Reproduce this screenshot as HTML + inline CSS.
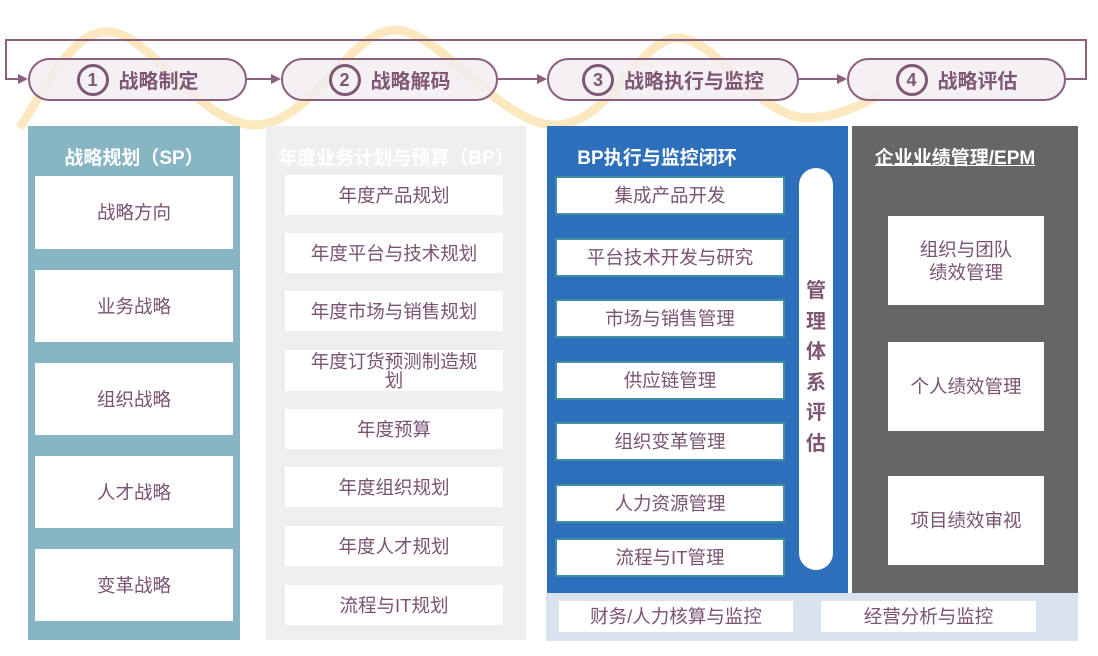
<!DOCTYPE html>
<html><head><meta charset="utf-8"><style>
body{margin:0;width:1098px;height:656px;background:#fff;position:relative;overflow:hidden;font-family:"Liberation Sans","Noto Sans CJK SC",sans-serif}
.a{position:absolute;box-sizing:border-box}
.b{position:absolute;box-sizing:border-box;background:#fff;color:#7a5373;font-size:18.5px;display:flex;align-items:center;justify-content:center;text-align:center;line-height:21px}
.t{border:2.5px solid #3f8fa0}
.h{position:absolute;color:#fff;font-weight:bold;font-size:19px;text-align:center}
.p{position:absolute;box-sizing:border-box;top:58px;height:43px;border:2px solid #8a5f80;border-radius:22px;background:rgba(241,236,241,0.8);color:#7f5775;font-weight:bold;font-size:20px;display:flex;align-items:center;justify-content:center}
.p span{display:inline-block;width:26px;height:26px;border:3px solid #7f5775;border-radius:50%;font-size:18px;line-height:26px;text-align:center;margin-right:10px}
</style></head><body>
<svg class="a" style="left:0;top:0" width="1098" height="140">
<path d="M20,128 C60,60 80,30 110,32 C150,34 200,125 255,125 C310,125 350,30 395,30 C440,30 500,125 555,125 C610,125 640,35 680,38 C720,42 760,120 810,118 C840,116 860,105 880,95" fill="none" stroke="#fbe6b8" stroke-width="9" opacity="0.9"/>
<polyline points="1066,79 1086,79 1086,40 6,40 6,79 22,79" fill="none" stroke="#8a5f80" stroke-width="2"/>
<polygon points="28,79 18,74 18,84" fill="#8a5f80"/>
<line x1="247" y1="79" x2="273" y2="79" stroke="#8a5f80" stroke-width="2"/><polygon points="281,79 271,74 271,84" fill="#8a5f80"/>
<line x1="498" y1="79" x2="539" y2="79" stroke="#8a5f80" stroke-width="2"/><polygon points="547,79 537,74 537,84" fill="#8a5f80"/>
<line x1="799" y1="79" x2="839" y2="79" stroke="#8a5f80" stroke-width="2"/><polygon points="847,79 837,74 837,84" fill="#8a5f80"/>
</svg>
<div class="p" style="left:28px;width:219px"><span>1</span>战略制定</div>
<div class="p" style="left:281px;width:217px"><span>2</span>战略解码</div>
<div class="p" style="left:547px;width:252px"><span>3</span>战略执行与监控</div>
<div class="p" style="left:847px;width:219px"><span>4</span>战略评估</div>

<div class="a" style="left:28px;top:126px;width:212px;height:514px;background:#88b5c4"></div>
<div class="h" style="left:28px;top:143px;width:212px">战略规划（SP）</div>
<div class="b" style="left:35px;top:176px;width:198px;height:73px">战略方向</div>
<div class="b" style="left:35px;top:270px;width:198px;height:72px">业务战略</div>
<div class="b" style="left:35px;top:363px;width:198px;height:72px">组织战略</div>
<div class="b" style="left:35px;top:456px;width:198px;height:72px">人才战略</div>
<div class="b" style="left:35px;top:549px;width:198px;height:72px">变革战略</div>

<div class="a" style="left:266px;top:126px;width:260px;height:514px;background:#efefef"></div>
<div class="h" style="left:266px;top:143px;width:260px">年度业务计划与预算（BP）</div>
<div class="b" style="left:285px;top:175px;width:218px;height:40px">年度产品规划</div>
<div class="b" style="left:285px;top:233px;width:218px;height:40px">年度平台与技术规划</div>
<div class="b" style="left:285px;top:291px;width:218px;height:40px">年度市场与销售规划</div>
<div class="b" style="left:285px;top:350px;width:218px;height:41px;line-height:19px">年度订货预测制造规<br>划</div>
<div class="b" style="left:285px;top:409px;width:218px;height:40px">年度预算</div>
<div class="b" style="left:285px;top:467px;width:218px;height:40px">年度组织规划</div>
<div class="b" style="left:285px;top:526px;width:218px;height:40px">年度人才规划</div>
<div class="b" style="left:285px;top:585px;width:218px;height:40px">流程与IT规划</div>

<div class="a" style="left:546px;top:593px;width:532px;height:48px;background:#dbe2ef"></div>
<div class="b" style="left:559px;top:601px;width:234px;height:31px">财务/人力核算与监控</div>
<div class="b" style="left:821px;top:601px;width:215px;height:31px">经营分析与监控</div>

<div class="a" style="left:547px;top:126px;width:301px;height:467px;background:#2d6fba"></div>
<div class="h" style="left:547px;top:143px;width:220px">BP执行与监控闭环</div>
<div class="b t" style="left:555px;top:176px;width:230px;height:39px">集成产品开发</div>
<div class="b t" style="left:555px;top:238px;width:230px;height:39px">平台技术开发与研究</div>
<div class="b t" style="left:555px;top:299px;width:230px;height:39px">市场与销售管理</div>
<div class="b t" style="left:555px;top:361px;width:230px;height:39px">供应链管理</div>
<div class="b t" style="left:555px;top:422px;width:230px;height:39px">组织变革管理</div>
<div class="b t" style="left:555px;top:484px;width:230px;height:39px">人力资源管理</div>
<div class="b t" style="left:555px;top:538px;width:230px;height:39px">流程与IT管理</div>
<div class="a" style="left:799px;top:168px;width:34px;height:402px;background:#fff;border-radius:17px"></div>
<div class="a" style="left:799px;top:276px;width:34px;color:#7f5775;font-weight:bold;font-size:20px;line-height:30.5px;text-align:center">管<br>理<br>体<br>系<br>评<br>估</div>

<div class="a" style="left:852px;top:126px;width:226px;height:467px;background:#666"></div>
<div class="h" style="left:852px;top:143px;width:206px;text-decoration:underline">企业业绩管理/EPM</div>
<div class="b" style="left:888px;top:216px;width:156px;height:89px;line-height:23px">组织与团队<br>绩效管理</div>
<div class="b" style="left:888px;top:342px;width:156px;height:89px">个人绩效管理</div>
<div class="b" style="left:888px;top:476px;width:156px;height:89px">项目绩效审视</div>
</body></html>
